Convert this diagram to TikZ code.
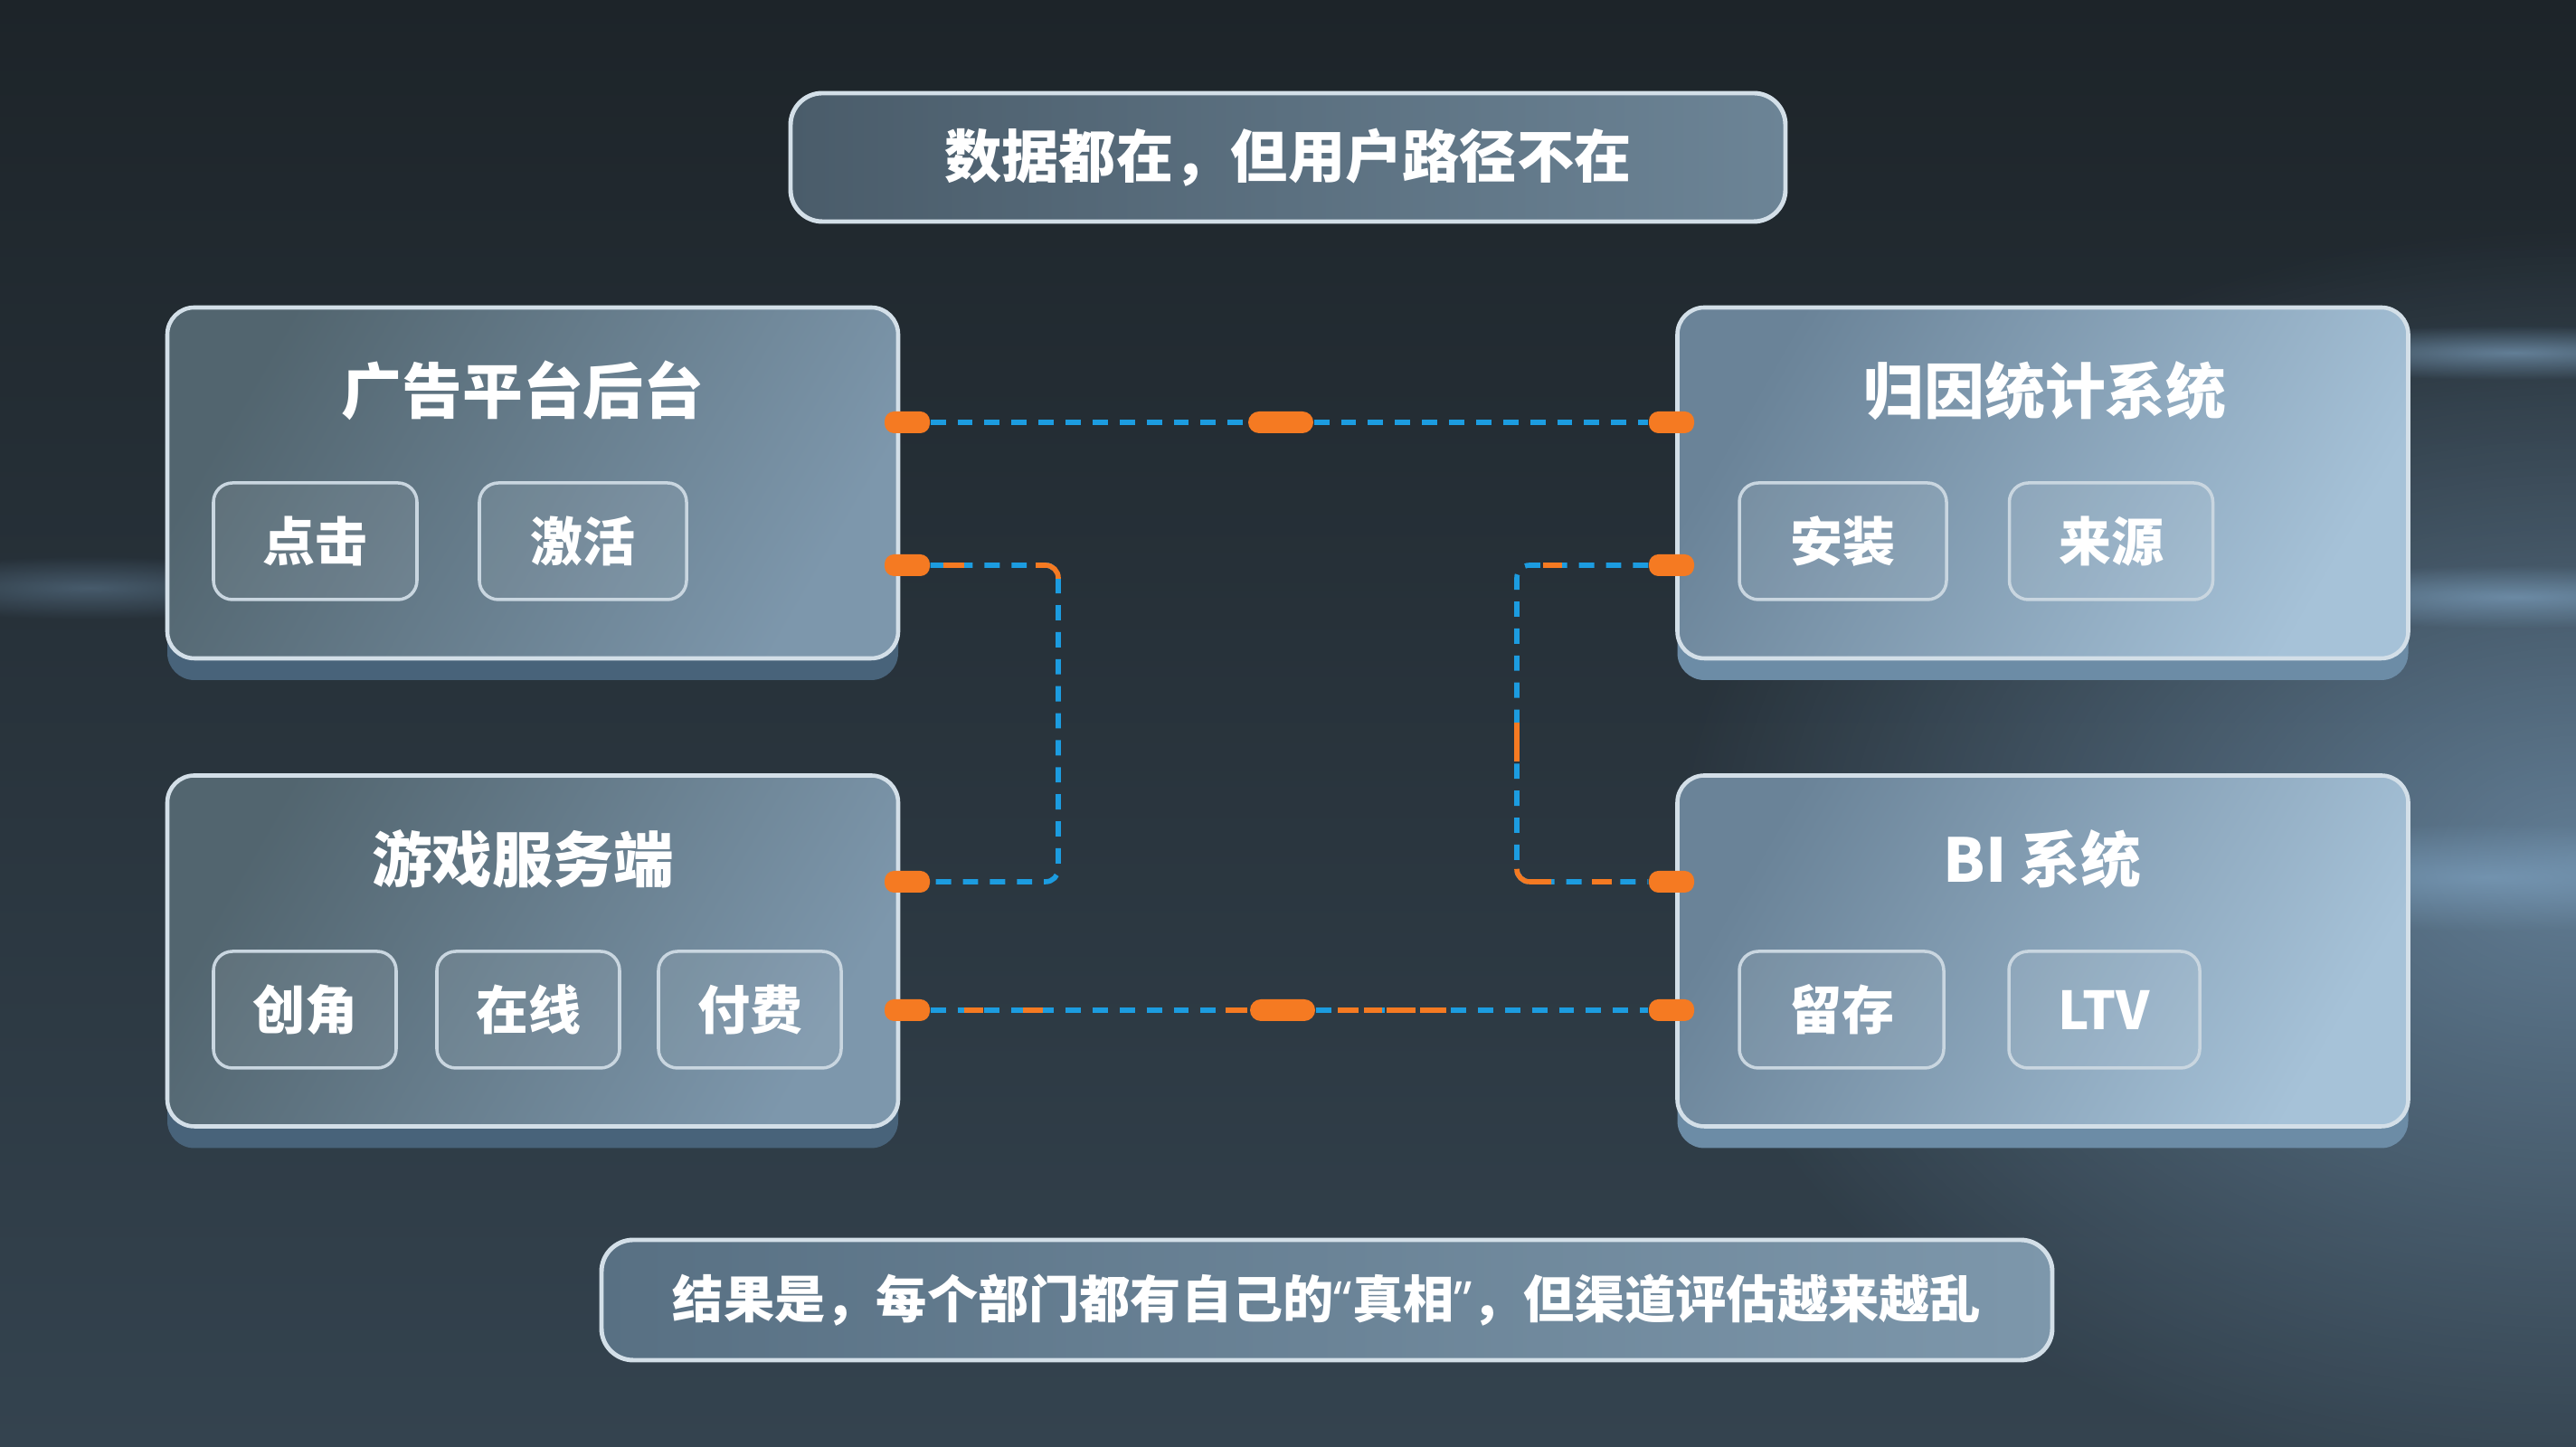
\documentclass[tikz,border=0pt]{standalone}
\usepackage{fontspec}
\setmainfont{Noto Sans CJK SC}
\newfontfamily\quotefont{Noto Sans}
\usetikzlibrary{positioning,calc,shadows,fadings}
\definecolor{bgtop}{HTML}{1D2429}
\definecolor{bgbot}{HTML}{34434F}
\definecolor{haze}{HTML}{7FA3C2}
\definecolor{rim}{HTML}{D3DFE8}
\definecolor{chiprim}{HTML}{C9D6E0}
\definecolor{panelA}{HTML}{52656F}
\definecolor{panelB}{HTML}{7D97AC}
\definecolor{panelC}{HTML}{6A8398}
\definecolor{panelD}{HTML}{A6C2D8}
\definecolor{lipL}{HTML}{48637A}
\definecolor{lipR}{HTML}{6C8CA6}
\definecolor{capA}{HTML}{4A5C6A}
\definecolor{capB}{HTML}{6C8496}
\definecolor{footA}{HTML}{587083}
\definecolor{footB}{HTML}{7D97AB}
\definecolor{wireblue}{HTML}{1C9CE0}
\definecolor{orng}{HTML}{F57A22}
\tikzfading[name=glowfade,inner color=transparent!35,outer color=transparent!100]
\tikzset{
  every node/.style={text=white,font=\bfseries},
  panel/.style={draw=rim,line width=1.3pt,rounded corners=8.5pt,minimum width=80.8mm,minimum height=38.8mm,inner sep=0pt},
  leftpanel/.style={panel,left color=panelA,right color=panelB,shading angle=60,general shadow={fill=lipL,shadow yshift=-2.4mm}},
  rightpanel/.style={panel,left color=panelC,right color=panelD,shading angle=60,general shadow={fill=lipR,shadow yshift=-2.4mm}},
  paneltitle/.style={font=\fontsize{19}{23}\selectfont\bfseries},
  chip/.style={draw=chiprim,line width=1pt,rounded corners=6pt,fill=white,fill opacity=.07,text opacity=1,minimum height=12.9mm,inner sep=0pt,font=\fontsize{16.5}{20}\selectfont\bfseries},
  banner/.style={draw=rim,line width=1.4pt,rounded corners=10pt,inner sep=0pt},
  port/.style={fill=orng,rounded corners=3pt,minimum width=5mm,minimum height=2.4mm,inner sep=0pt},
  pill/.style={fill=orng,rounded corners=1.2mm,minimum width=7.2mm,minimum height=2.4mm,inner sep=0pt},
  wire/.style={draw=wireblue,line width=1.6pt,dash pattern=on 4.8pt off 3.7pt},
  tint/.style={draw=orng,line width=1.6pt},
}

\begin{document}
\begin{tikzpicture}[x=1cm,y=1cm]
  \useasboundingbox (0,0) rectangle (28.48,16);
  % backdrop
  \shade[top color=bgtop,bottom color=bgbot] (0,0) rectangle (28.48,16);
  \fill[haze,path fading=glowfade] (28.5,6.5) ellipse (10 and 7);
  \fill[haze,path fading=glowfade] (27.8,12.1) ellipse (3.2 and 0.3);
  \fill[haze,path fading=glowfade] (27.8,9.4) ellipse (3.2 and 0.35);
  \fill[haze,path fading=glowfade] (27.5,6.3) ellipse (4 and 0.6);
  \fill[haze!70!black,path fading=glowfade] (1,9.5) ellipse (2.6 and 0.35);

  % headline and footer
  \node[banner,left color=capA,right color=capB,minimum width=110mm,minimum height=14.2mm,font=\fontsize{18}{22}\selectfont\bfseries] (hdr) at (14.24,14.26) {数据都在，但用户路径不在};
  \node[banner,left color=footA,right color=footB,minimum width=160.4mm,minimum height=13.3mm,font=\fontsize{16}{20}\selectfont\bfseries] (ftr) at (14.67,1.625) {结果是，每个部门都有自己的{\quotefont “}真相{\quotefont ”}，但渠道评估越来越乱};

  % systems
  \node[leftpanel] (ad) at (5.89,10.66) {};
  \node[leftpanel] (game) at (5.89,5.485) {};
  \node[rightpanel] (attr) at (22.585,10.66) {};
  \node[rightpanel] (bi) at (22.585,5.485) {};
  \node[paneltitle] (adt) at (5.78,11.68) {广告平台后台};
  \node[paneltitle] (gamet) at (5.78,6.50) {游戏服务端};
  \node[paneltitle] (attrt) at (22.61,11.68) {归因统计系统};
  \node[paneltitle] (bit) at (22.58,6.50) {BI 系统};

  \node[chip,minimum width=22.5mm] (click) at (3.485,10.015) {点击};
  \node[chip,minimum width=22.9mm] (activ) at (6.445,10.015) {激活};
  \node[chip,minimum width=20.2mm] (role) at (3.37,4.835) {创角};
  \node[chip,minimum width=20.2mm] (online) at (5.84,4.835) {在线};
  \node[chip,minimum width=20.2mm] (pay) at (8.29,4.835) {付费};
  \node[chip,minimum width=22.9mm] (inst) at (20.375,10.015) {安装};
  \node[chip,minimum width=22.5mm] (src) at (23.34,10.015) {来源};
  \node[chip,minimum width=22.6mm] (keep) at (20.36,4.835) {留存};
  \node[chip,minimum width=21.1mm] (ltv) at (23.265,4.835) {LTV};

  % ports
  \node[port] (pa1) at (10.03,11.33) {};
  \node[port] (pa2) at (10.03,9.75) {};
  \node[port] (pg1) at (10.03,6.25) {};
  \node[port] (pg2) at (10.03,4.83) {};
  \node[port] (pb1) at (18.48,11.33) {};
  \node[port] (pb2) at (18.48,9.75) {};
  \node[port] (pd1) at (18.48,6.25) {};
  \node[port] (pd2) at (18.48,4.83) {};
  \coordinate (kl) at (11.70,8);
  \coordinate (kr) at (16.77,8);

  % links
  \node[pill] (m1) at (14.16,11.33) {};
  \node[pill] (m2) at (14.18,4.83) {};
  \draw[wire] (pa1) -- (m1);
  \draw[wire] (m1) -- (pb1);
  \draw[wire,rounded corners=4pt] (pa2) -- (pa2 -| kl) -- (pg1 -| kl) -- (pg1);
  \draw[wire,rounded corners=4pt] (pb2) -- (pb2 -| kr) -- (pd1 -| kr) -- (pd1);
  \draw[wire] (pg2) -- (m2);
  \draw[wire] (m2) -- (pd2);

  % broken bits
  \draw[tint] ($(pa2.east)+(0.14,0)$) -- ++(0.23,0);
  \draw[tint,rounded corners=4pt] ($(pa2 -| kl)+(-0.25,0)$) -- (pa2 -| kl) -- ++(0,-0.15);
  \draw[tint] ($(pb2 -| kr)+(0.29,0)$) -- ++(0.21,0);
  \draw[tint] ($(kr)+(0,0.01)$) -- ++(0,-0.43);
  \draw[tint,rounded corners=4pt] ($(pd1 -| kr)+(0,0.13)$) -- (pd1 -| kr) -- ++(0.38,0);
  \draw[tint] ($(pd1 -| kr)+(0.83,0)$) -- ++(0.22,0);
  \foreach \a/\b in {-3.52/-3.31,-2.87/-2.65,-0.63/-0.39,0.61/0.84,0.90/1.10,1.15/1.47,1.52/1.81}
    \draw[tint] ($(m2)+(\a,0)$) -- ($(m2)+(\b,0)$);
\end{tikzpicture}
\end{document}
